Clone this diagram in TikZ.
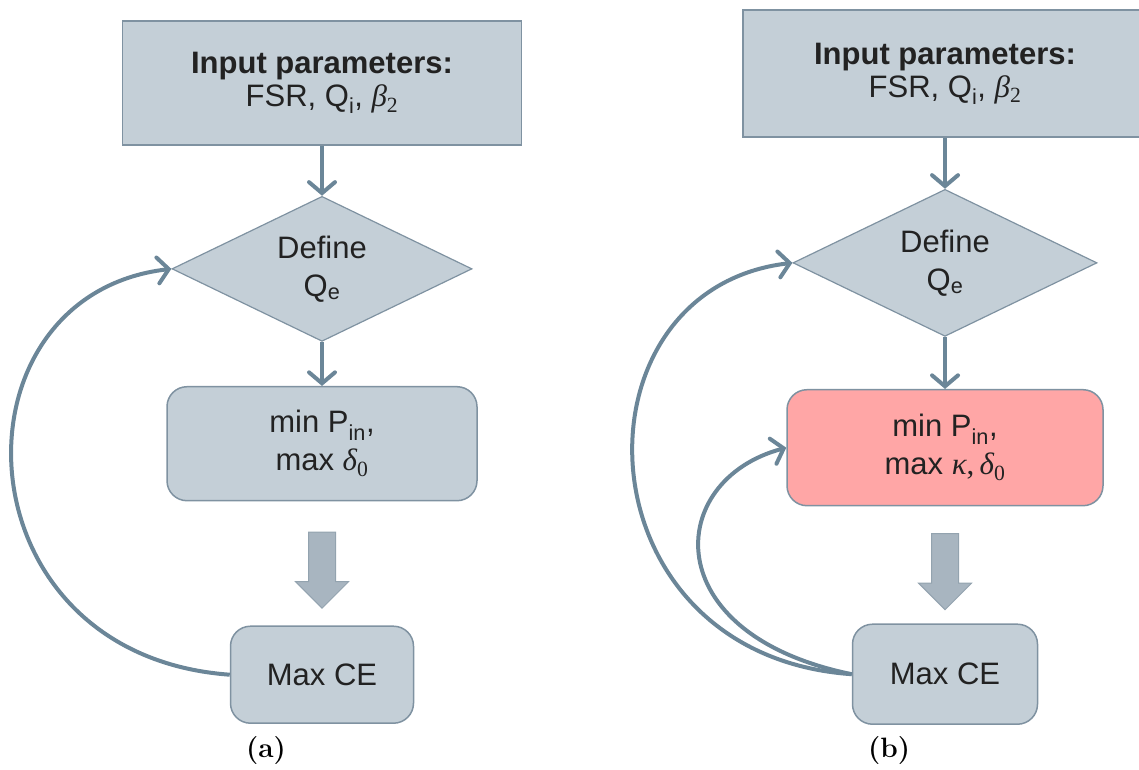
\documentclass[tikz,border=0pt]{standalone}
\usepackage{amsmath}
\usepackage{fontspec}
\newfontfamily\arialfont{Liberation Sans}
\newfontfamily\greekfont{Liberation Serif}
\usepackage{tikz}
\usepackage{xcolor}
\usetikzlibrary{shapes.geometric, shapes.arrows, arrows.meta, positioning, calc}

\newcommand{\gvar}[1]{{\greekfont\itshape #1}}
\newcommand{\gsub}[1]{\textsubscript{\greekfont #1}}

\definecolor{boxfill}{HTML}{C4CFD7}
\definecolor{boxline}{HTML}{7F92A1}
\definecolor{flowcol}{HTML}{6B8698}
\definecolor{blkfill}{HTML}{A8B5C0}
\definecolor{blkline}{HTML}{93A3AF}
\definecolor{hotfill}{HTML}{FFA6A6}
\definecolor{txtcol}{HTML}{222222}

\tikzset{
  txt/.style={font=\arialfont\fontsize{31}{38}\selectfont, text=txtcol, align=center, inner sep=0pt},
  inbox/.style={txt, font=\arialfont\fontsize{31}{33}\selectfont, rectangle, draw=boxline, fill=boxfill, line width=1.5pt},
  decide/.style={txt, diamond, aspect=2, draw=boxline, fill=boxfill, line width=1.2pt},
  stepbox/.style={txt, rectangle, rounded corners=20pt, draw=boxline, fill=boxfill, line width=1.5pt},
  hotbox/.style={stepbox, fill=hotfill},
  bigarrow/.style={single arrow, rotate=-90, draw=blkline, fill=blkfill, line width=1pt,
    inner xsep=0pt, inner ysep=13pt, single arrow head extend=13pt, minimum height=76pt},
  flow/.style={draw=flowcol, line width=4pt, -{Straight Barb[length=11pt, width=26pt, line cap=round]}},
  caption/.style={font=\fontsize{28}{32}\selectfont\bfseries}
}

\begin{document}
\begin{tikzpicture}[x=1pt, y=-1pt]
\useasboundingbox (0,0) rectangle (1139,770);

% Flow (a)
\node[inbox, minimum width=399pt, minimum height=124pt] (inpA) at (322,83) {\textbf{Input parameters:}\\FSR, Q\textsubscript{i}, \gvar{β}\gsub{2}};
\node[decide, minimum width=300pt, minimum height=145pt, below=50pt of inpA] (defA) {Define\\Q\textsubscript{e}};
\node[stepbox, minimum width=310pt, minimum height=114pt, below=44pt of defA] (minA) {min P\textsubscript{in},\\max \gvar{δ}\gsub{0}};
\node[stepbox, minimum width=183pt, minimum height=97pt, below=124pt of minA] (maxA) {Max CE};
\node[bigarrow] (blkA) at ($(minA.south)!0.5!(maxA.north)$) {};

\draw[flow] (inpA.south) -- (defA.north);
\draw[flow] (defA.south) -- (minA.north);
\draw[flow] (maxA.west) .. controls (-45,655) and (-55,295) .. (defA.west);

\node[caption] (capA) at (266,751) {(a)};

% Flow (b)
\node[inbox, minimum width=404pt, minimum height=127pt] (inpB) at (945,73.5) {\textbf{Input parameters:}\\FSR, Q\textsubscript{i}, \gvar{β}\gsub{2}};
\node[decide, minimum width=304pt, minimum height=147pt, below=51pt of inpB] (defB) {Define\\Q\textsubscript{e}};
\node[hotbox, minimum width=316pt, minimum height=116pt, below=52pt of defB] (minB) {min P\textsubscript{in},\\max \gvar{κ}{\greekfont,}\,\gvar{δ}\gsub{0}};
\node[stepbox, minimum width=185pt, minimum height=100pt, below=117pt of minB] (maxB) {Max CE};
\node[bigarrow] (blkB) at ($(minB.south)!0.5!(maxB.north)$) {};

\draw[flow] (inpB.south) -- (defB.north);
\draw[flow] (defB.south) -- (minB.north);
\draw[flow] (maxB.west) .. controls (576,655) and (566,289) .. (defB.west);
\draw[flow] (maxB.west) .. controls (655,634) and (665,480) .. (minB.west);

\node[caption] (capB) at (889,751) {(b)};
\end{tikzpicture}
\end{document}
